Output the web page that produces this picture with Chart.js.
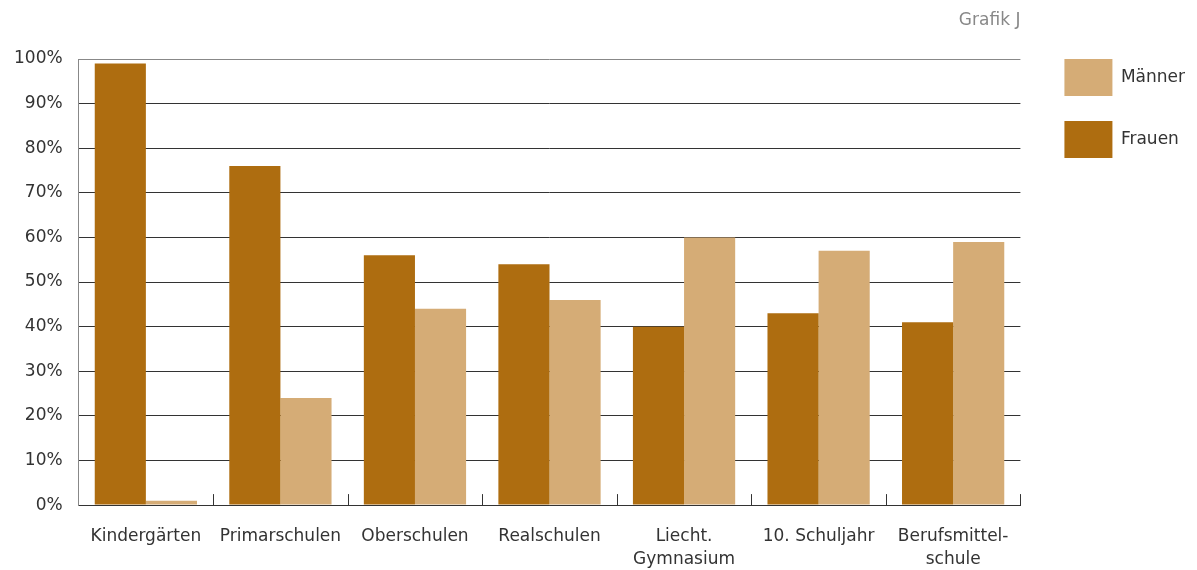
<!DOCTYPE html>
<html><head><meta charset="utf-8">
<script src="https://cdn.jsdelivr.net/npm/chart.js@4.4.0/dist/chart.umd.min.js"></script>
<style>html,body{margin:0;padding:0;background:#fff}#wrap{width:1197px;height:570px;position:relative}</style>
</head><body><div id="wrap"><canvas id="c" width="1197" height="570"></canvas></div>
<script>
const categories = ['Kindergärten', 'Primarschulen', 'Oberschulen', 'Realschulen', ['Liecht.', 'Gymnasium'], '10. Schuljahr', ['Berufsmittel-', 'schule']];
const frauen = [99, 76, 56, 54, 40, 43, 41];
const maenner = [1, 24, 44, 46, 60, 57, 59];
const seriesNames = ['Frauen', 'Männer'];
const yTickValues = [0, 10, 20, 30, 40, 50, 60, 70, 80, 90, 100];
const chartNote = 'Grafik J';

const FONT = 'DejaVu Sans';
const catTicks = {
  id: 'catTicks',
  afterDatasetsDraw(chart) {
    const x = chart.scales.x, ctx = chart.ctx;
    const n = chart.data.labels.length, w = (x.right - x.left) / n;
    ctx.save(); ctx.strokeStyle = '#333'; ctx.lineWidth = 1;
    for (let i = 1; i <= n; i++) {
      const px = Math.round(x.left + i * w) + 0.5;
      ctx.beginPath(); ctx.moveTo(px, x.top); ctx.lineTo(px, x.top - 11); ctx.stroke();
    }
    ctx.restore();
  }
};

new Chart(document.getElementById('c'), {
  type: 'bar',
  data: {
    labels: categories,
    datasets: [
      { label: seriesNames[0], data: frauen, backgroundColor: '#AE6D10', borderWidth: 0 },
      { label: seriesNames[1], data: maenner, backgroundColor: '#D5AC76', borderWidth: 0 }
    ]
  },
  options: {
    responsive: false, animation: false, devicePixelRatio: 1,
    categoryPercentage: 0.76, barPercentage: 1,
    layout: { padding: { top: 34, right: 2, bottom: -21, left: -2 } },
    plugins: {
      tooltip: { enabled: false },
      title: {
        display: true, text: chartNote, position: 'top', fullSize: false, align: 'end',
        color: '#888', font: { family: FONT, size: 17, weight: 'normal', lineHeight: 1.2 },
        padding: { top: -24, bottom: 28.6 }
      },
      legend: {
        position: 'right', align: 'start', reverse: true,
        labels: { boxWidth: 48, boxHeight: 37, padding: 25, color: '#333', font: { family: FONT, size: 17 } }
      }
    },
    scales: {
      x: {
        grid: { display: true, drawOnChartArea: false, drawTicks: false },
        border: { color: '#333' },
        ticks: { padding: 20, color: '#333', maxRotation: 0, autoSkip: false, font: { family: FONT, size: 17, lineHeight: 1.35 } }
      },
      y: {
        min: 0, max: 100,
        afterBuildTicks: s => { s.ticks = yTickValues.map(v => ({ value: v })); },
        grid: { drawTicks: false, color: c => (c.tick && c.tick.value === 100) ? '#888' : '#333' },
        border: { color: '#888' },
        ticks: { padding: 16, color: '#333', callback: v => v + '%', font: { family: FONT, size: 17 } }
      },
      spacer: {
        type: 'linear', position: 'right', display: true,
        grid: { display: false }, border: { display: false }, ticks: { display: false },
        afterFit: s => { s.width = 19; }
      }
    }
  },
  plugins: [catTicks]
});
</script></body></html>
